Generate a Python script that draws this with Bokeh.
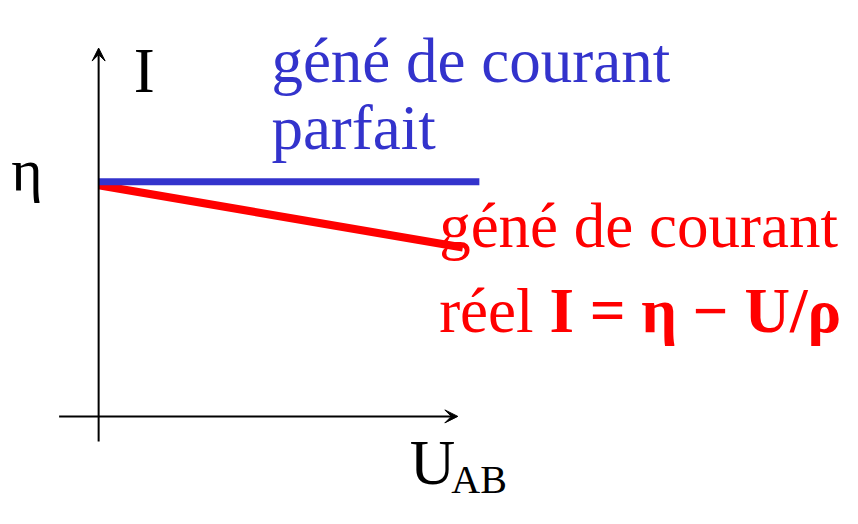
from bokeh.plotting import figure
from bokeh.models import Range1d, Arrow, VeeHead
from bokeh.core.properties import value
from bokeh.embed import file_html
from bokeh.resources import INLINE

# ---- data (abstract units: U along x, I along y; eta = 1) ----
ETA = 1.0
u_axis = [-0.11, 1.0]          # extent of the U axis (arrow tip at 1.0)
i_axis = [-0.107, 1.57]        # extent of the I axis (arrow tip at 1.57)
ideal_u = [0.0, 1.06]          # perfect current source: I = eta
ideal_i = [ETA, ETA]
real_u = [0.0, 1.014]          # real current source: I = eta - U/rho
real_i = [0.985, 0.72]

labels_font = value("Liberation Serif")
BLUE = "#3333CC"
RED = "#FF0000"

p = figure(width=842, height=508, output_backend="svg", toolbar_location=None,
           x_range=Range1d(-0.2732, 2.071), y_range=Range1d(-0.3926, 1.7727),
           min_border=0)
p.axis.visible = False
p.grid.visible = False
p.outline_line_color = None
p.background_fill_color = "white"
p.border_fill_color = "white"

# axes with arrow heads
p.add_layout(Arrow(end=VeeHead(size=13, fill_color="black", line_color="black", line_width=1),
                   x_start=u_axis[0], y_start=0, x_end=u_axis[1], y_end=0,
                   line_width=2, line_color="black"))
p.add_layout(Arrow(end=VeeHead(size=13, fill_color="black", line_color="black", line_width=1),
                   x_start=0, y_start=i_axis[0], x_end=0, y_end=i_axis[1],
                   line_width=2, line_color="black"))

# characteristic lines
p.line(real_u, real_i, line_color=RED, line_width=8, line_cap="butt")
p.line(ideal_u, ideal_i, line_color=BLUE, line_width=7, line_cap="butt")

# labels
def label(x, y, txt, color="black", size="63px", style="normal"):
    p.text(x=[x], y=[y], text=[txt], text_font=labels_font, text_font_size=size,
           text_color=color, text_font_style=style,
           text_baseline="alphabetic", text_align="left")

label(0.098, 1.471, "I")
label(-0.243, ETA + 0.05, "η", size="60px")
label(0.866, -0.2, "U")
label(0.982, -0.27, "AB", size="40px")

label(0.481, 1.5165, "géné de courant", color=BLUE)
label(0.481, 1.2273, "parfait", color=BLUE)

label(0.948, 0.81, "géné de courant", color=RED)
label(0.948, 0.4504, "réel", color=RED)
label(1.255, 0.4504, "I = η − U/ρ", color=RED, style="bold")

open("out.html", "w").write(file_html(p, INLINE))
